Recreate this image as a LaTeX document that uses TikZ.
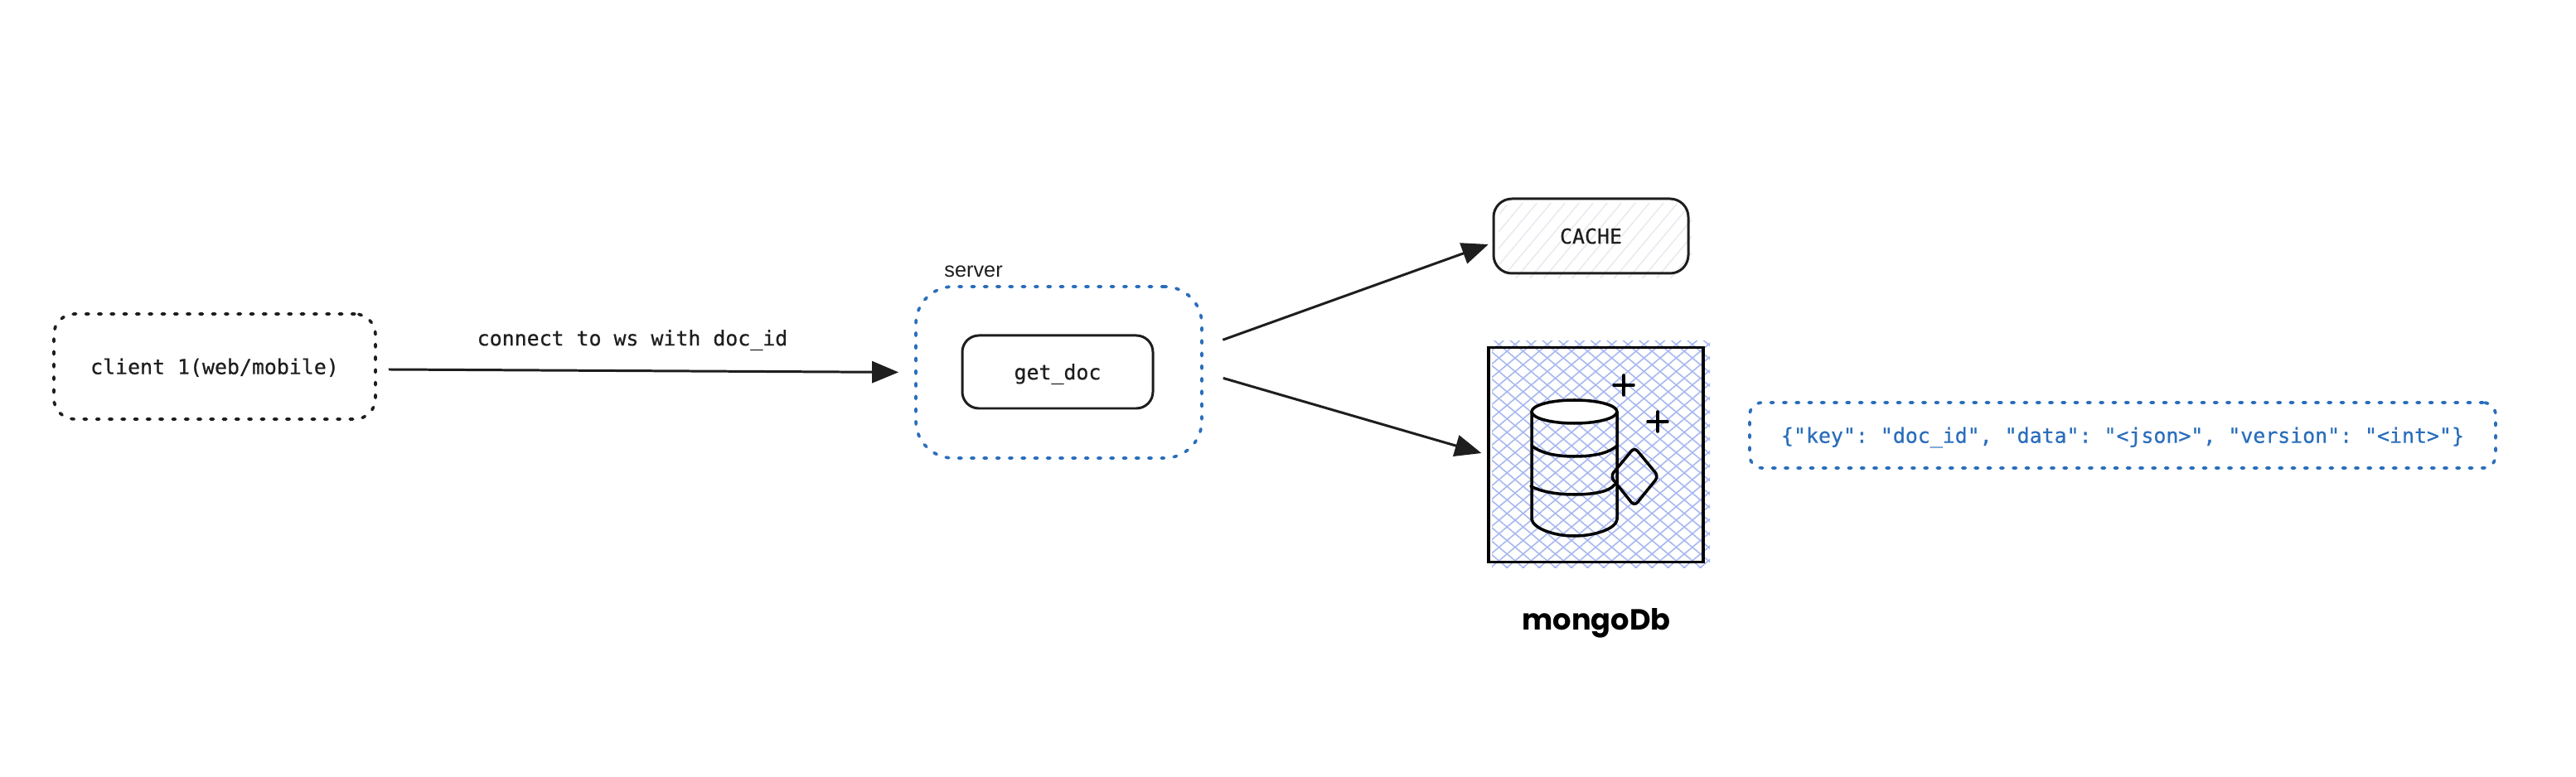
\documentclass[tikz,border=0pt]{standalone}
\usepackage{fontspec}
\setmainfont{Liberation Sans}
\setmonofont[FakeBold=0.55]{DejaVu Sans Mono}
\newfontfamily\handfont{Poppins}
\usetikzlibrary{patterns.meta}
\usetikzlibrary{arrows.meta}
\definecolor{inkdark}{HTML}{1E1E1E}
\definecolor{inkblue}{HTML}{2A6EBB}
\definecolor{hatchblue}{HTML}{A8B8F0}
\definecolor{hatchgrey}{HTML}{E6E9EE}
\tikzset{
  monotext/.style={font=\ttfamily\fontsize{7.08}{9}\selectfont,text=inkdark,text height=6.3pt,text depth=1.1pt},
  solidbox/.style={draw=inkdark,line width=0.85pt,rounded corners=0.2cm,inner sep=0pt,monotext},
  dotbox/.style={draw=inkdark,line width=1.05pt,line cap=round,dash pattern=on 1pt off 3.35pt,inner sep=0pt,monotext},
  bluebox/.style={dotbox,draw=inkblue,text=inkblue},
  link/.style={draw=inkdark,line width=0.85pt,-{Triangle[length=0.32cm,width=0.26cm]}},
  icon/.style={draw=black,line width=1pt,line cap=round,line join=round},
}
\begin{document}
\begin{tikzpicture}
\fill[white] (0,0) rectangle (31.08,9.38);
\useasboundingbox (0,0) rectangle (31.08,9.38);
\fill[pattern={Lines[angle=50,distance=0.13cm,line width=0.4pt]},pattern color=hatchgrey,rounded corners=0.2cm] (18.08,6.02) rectangle (20.41,6.93);
\fill[pattern={Lines[angle=40,distance=0.125cm,line width=0.45pt]},pattern color=hatchblue] (18.0,2.52) rectangle (20.63,5.26);
\fill[pattern={Lines[angle=-40,distance=0.125cm,line width=0.45pt]},pattern color=hatchblue] (18.0,2.52) rectangle (20.63,5.26);

\node[dotbox,rounded corners=0.25cm,minimum width=3.88cm,minimum height=1.27cm] (client) at (2.59,4.955) {client 1(web/mobile)};
\node[monotext] (connectlabel) at (7.63,5.3) {connect to ws with doc\_id};
\node[bluebox,rounded corners=0.45cm,minimum width=3.45cm,minimum height=2.07cm] (server) at (12.775,4.885) {};
\node[font=\fontsize{7.2}{9}\selectfont,text=inkdark,anchor=west] (serverlabel) at (11.27,6.1) {server};
\node[solidbox,minimum width=2.3cm,minimum height=0.88cm] (getdoc) at (12.76,4.89) {get\_doc};
\node[solidbox,rounded corners=0.22cm,minimum width=2.35cm,minimum height=0.9cm] (cache) at (19.195,6.53) {CACHE};
\node[draw=black,line width=1.05pt,minimum size=2.59cm,inner sep=0pt] (mongo) at (19.255,3.89) {};
\node[bluebox,rounded corners=0.15cm,minimum width=9cm,minimum height=0.79cm] (doc) at (25.61,4.125) {\{"key": "doc\_id", "data": "<json>", "version": "<int>"\}};
\node[font=\handfont\bfseries\fontsize{10}{13}\selectfont,text=black] (mongolabel) at (19.26,1.86) {mongoDb};

\draw[link,shorten <=0.14cm,shorten >=0.19cm] (client.-1) -- (server.west);
\draw[link,shorten <=0.25cm,shorten >=0.05cm] (server.10) -- (cache.184);
\draw[link,shorten <=0.25cm,shorten >=0.07cm] (server.east) -- (mongo.west);

\draw[icon,fill=white] (18.995,4.41) ellipse (0.515cm and 0.14cm);
\draw[icon] (18.48,4.41) -- (18.48,3.11) .. controls (18.5,3.0) and (18.75,2.91) .. (18.99,2.91) .. controls (19.25,2.91) and (19.5,3.0) .. (19.51,3.11) -- (19.51,4.41);
\draw[icon] (18.48,4.0) .. controls (18.6,3.9) and (18.8,3.87) .. (18.995,3.87) .. controls (19.2,3.87) and (19.4,3.9) .. (19.51,4.0);
\draw[icon] (18.47,3.51) .. controls (18.6,3.44) and (18.8,3.41) .. (18.995,3.41) .. controls (19.2,3.41) and (19.42,3.44) .. (19.48,3.53);
\draw[icon,rounded corners=0.06cm] (19.72,3.98) -- (20.01,3.63) -- (19.72,3.27) -- (19.43,3.63) -- cycle;
\draw[icon] (19.47,4.73) -- (19.71,4.73);
\draw[icon] (19.59,4.61) -- (19.59,4.85);
\draw[icon] (19.88,4.29) -- (20.12,4.29);
\draw[icon] (20.0,4.17) -- (20.0,4.41);
\end{tikzpicture}
\end{document}
